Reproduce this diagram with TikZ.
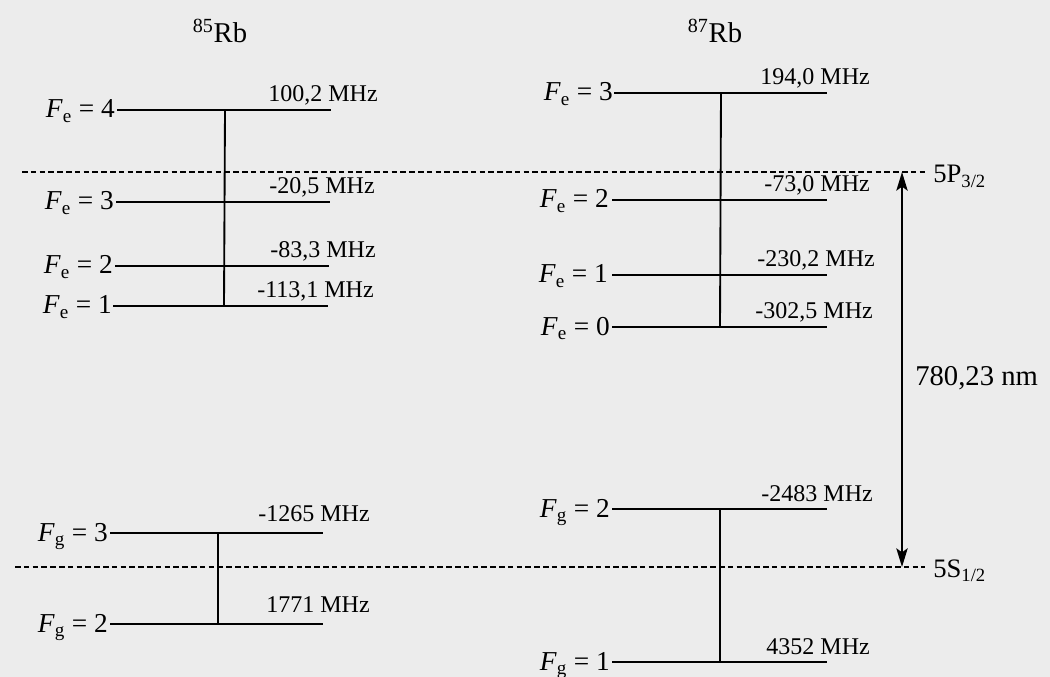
\documentclass[tikz,border=0pt]{standalone}
\usepackage{fontspec}
\setmainfont{Liberation Serif}
\usetikzlibrary{arrows.meta}
\definecolor{paper}{RGB}{236,236,236}
\begin{document}
\begin{tikzpicture}[x=0.75pt,y=-0.75pt,
  levelline/.style={line width=1.6pt},
  connline/.style={line width=1.4pt},
  refline/.style={line width=1.1pt, dash pattern=on 4.2pt off 2.4pt},
  lvllabel/.style={font=\fontsize{20.5}{24}\selectfont, anchor=base east, inner sep=0pt},
  mhzlabel/.style={font=\fontsize{18}{22}\selectfont, anchor=base east, inner sep=0pt},
  isolabel/.style={font=\fontsize{21.5}{26}\selectfont, anchor=base, inner sep=0pt},
  statelabel/.style={font=\fontsize{20}{24}\selectfont, anchor=base west, inner sep=0pt},
  bigtip/.style={line width=1.4pt, {Stealth[length=14pt,width=8.5pt,inset=3pt]}-{Stealth[length=14pt,width=8.5pt,inset=3pt]}},
]
\fill[paper] (0,0) rectangle (1050,677);
\useasboundingbox (0,0) rectangle (1050,677);

% isotope titles
\node[isolabel] (t85) at (220,43) {\textsuperscript{85}Rb};
\node[isolabel] (t87) at (715,43) {\textsuperscript{87}Rb};

% reference (fine-structure) lines
\coordinate (pL) at (22,172);  \coordinate (pR) at (925,172);
\coordinate (sL) at (15,567);  \coordinate (sR) at (925,567);
\draw[refline] (pL) -- (pR);
\draw[refline] (sL) -- (sR);
\node[statelabel] (p32) at (933,183) {5P\textsubscript{3/2}};
\node[statelabel] (s12) at (933,577) {5S\textsubscript{1/2}};

% transition arrow
\coordinate (aT) at (902,172);
\coordinate (aB) at (902,567);
\draw[bigtip] (aT) -- (aB);
\node[font=\fontsize{21.5}{26}\selectfont, anchor=base west, inner sep=0pt] (wl) at (915,386) {780,23 nm};

% ---------- 85Rb excited ----------
\coordinate (a4L) at (117,110); \coordinate (a4R) at (331,110);
\coordinate (a3L) at (116,202); \coordinate (a3R) at (330,202);
\coordinate (a2L) at (115,266); \coordinate (a2R) at (329,266);
\coordinate (a1L) at (113,306); \coordinate (a1R) at (328,306);
\foreach \n in {4,3,2,1} {\draw[levelline] (a\n L) -- (a\n R);}
\node[lvllabel] (la4) at (115,118) {\textit{F}\textsubscript{e} = 4};
\node[lvllabel] (la3) at (114,210) {\textit{F}\textsubscript{e} = 3};
\node[lvllabel] (la2) at (113,274) {\textit{F}\textsubscript{e} = 2};
\node[lvllabel] (la1) at (112,314) {\textit{F}\textsubscript{e} = 1};
\node[mhzlabel] (ma4) at (378,102) {100,2 MHz};
\node[mhzlabel] (ma3) at (375,194) {-20,5 MHz};
\node[mhzlabel] (ma2) at (376,258) {-83,3 MHz};
\node[mhzlabel] (ma1) at (374,298) {-113,1 MHz};
\coordinate (ca4) at (225,110); \coordinate (ca1) at (224,306);
\draw[connline] (ca4) -- (ca1);

% ---------- 85Rb ground ----------
\coordinate (b3L) at (110,533); \coordinate (b3R) at (323,533);
\coordinate (b2L) at (110,624); \coordinate (b2R) at (323,624);
\foreach \n in {3,2} {\draw[levelline] (b\n L) -- (b\n R);}
\node[lvllabel] (lb3) at (108,541) {\textit{F}\textsubscript{g} = 3};
\node[lvllabel] (lb2) at (108,632) {\textit{F}\textsubscript{g} = 2};
\node[mhzlabel] (mb3) at (370,521) {-1265 MHz};
\node[mhzlabel] (mb2) at (370,612) {1771 MHz};
\coordinate (cb3) at (218,533); \coordinate (cb2) at (218,624);
\draw[connline] (cb3) -- (cb2);

% ---------- 87Rb excited ----------
\coordinate (c3L) at (614,93);  \coordinate (c3R) at (827,93);
\coordinate (c2L) at (612,200); \coordinate (c2R) at (827,200);
\coordinate (c1L) at (612,275); \coordinate (c1R) at (827,275);
\coordinate (c0L) at (612,327); \coordinate (c0R) at (827,327);
\foreach \n in {3,2,1,0} {\draw[levelline] (c\n L) -- (c\n R);}
\node[lvllabel] (lc3) at (613,101) {\textit{F}\textsubscript{e} = 3};
\node[lvllabel] (lc2) at (609,208) {\textit{F}\textsubscript{e} = 2};
\node[lvllabel] (lc1) at (608,283) {\textit{F}\textsubscript{e} = 1};
\node[lvllabel] (lc0) at (610,335) {\textit{F}\textsubscript{e} = 0};
\node[mhzlabel] (mc3) at (870,85)  {194,0 MHz};
\node[mhzlabel] (mc2) at (870,192) {-73,0 MHz};
\node[mhzlabel] (mc1) at (875,267) {-230,2 MHz};
\node[mhzlabel] (mc0) at (873,319) {-302,5 MHz};
\coordinate (cc3) at (721,93); \coordinate (cc0) at (720,327);
\draw[connline] (cc3) -- (cc0);

% ---------- 87Rb ground ----------
\coordinate (d2L) at (612,509); \coordinate (d2R) at (827,509);
\coordinate (d1L) at (612,662); \coordinate (d1R) at (827,662);
\foreach \n in {2,1} {\draw[levelline] (d\n L) -- (d\n R);}
\node[lvllabel] (ld2) at (610,517) {\textit{F}\textsubscript{g} = 2};
\node[lvllabel] (ld1) at (610,670) {\textit{F}\textsubscript{g} = 1};
\node[mhzlabel] (md2) at (873,501) {-2483 MHz};
\node[mhzlabel] (md1) at (870,654) {4352 MHz};
\coordinate (cd2) at (720,509); \coordinate (cd1) at (720,662);
\draw[connline] (cd2) -- (cd1);
\end{tikzpicture}
\end{document}
